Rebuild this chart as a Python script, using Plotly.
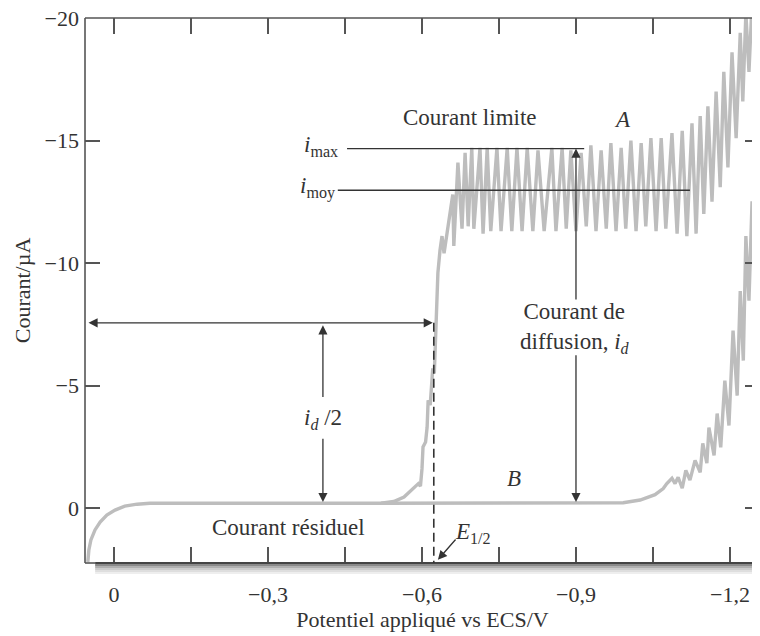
import plotly.graph_objects as go

# ---------------- data (potential in V vs ECS, current in µA) ----------------
RES_V = [0.051, 0.049, 0.045, 0.037, 0.027, 0.014, -0.002, -0.021, -0.045, -0.070]
RES_I = [2.2, 1.71, 1.30, 0.89, 0.57, 0.28, 0.08, -0.08, -0.16, -0.2]

A_V = [-0.52, -0.545, -0.565, -0.58, -0.593, -0.597, -0.600, -0.602, -0.607, -0.610,
       -0.612, -0.616, -0.619, -0.621, -0.624, -0.627, -0.631, -0.635, -0.639, -0.643,
       -0.660, -0.662, -0.670, -0.678, -0.684, -0.690,
       -0.697, -0.701, -0.713, -0.719, -0.727, -0.734, -0.746, -0.754, -0.766, -0.775,
       -0.785, -0.795, -0.805, -0.816, -0.826, -0.838, -0.853, -0.861, -0.873, -0.881,
       -0.890, -0.900, -0.910, -0.920, -0.929, -0.939, -0.949, -0.959, -0.968, -0.978,
       -0.988, -0.997, -1.007, -1.017, -1.027, -1.036, -1.046, -1.056, -1.066, -1.075,
       -1.087, -1.097, -1.107, -1.116, -1.126, -1.134, -1.142, -1.149, -1.157, -1.165,
       -1.173, -1.181, -1.188, -1.196, -1.204, -1.212, -1.220, -1.225, -1.231, -1.237,
       -1.243, -1.249, -1.255, -1.262]
A_I = [-0.2, -0.27, -0.45, -0.75, -1.0, -0.9, -1.6, -2.5, -2.7, -3.3,
       -4.4, -4.2, -5.0, -5.7, -5.5, -7.0, -9.6, -10.5, -11.1, -10.4,
       -12.8, -10.7, -14.1, -11.4, -14.5, -11.5,
       -14.7, -11.4, -14.7, -11.2, -14.7, -11.3, -14.7, -11.3, -14.7, -11.3,
       -14.7, -11.3, -14.7, -11.3, -14.6, -11.3, -14.7, -11.3, -14.7, -11.4,
       -14.6, -11.3, -14.5, -11.5, -14.8, -11.3, -14.6, -11.4, -14.9, -11.3,
       -14.7, -11.4, -15.0, -11.3, -14.9, -11.5, -15.1, -11.3, -15.1, -11.4,
       -15.3, -11.2, -15.4, -11.1, -15.7, -11.2, -16.0, -12.0, -16.4, -12.5,
       -17.0, -13.1, -17.8, -13.9, -18.6, -15.1, -19.4, -16.6, -20.2, -17.8,
       -20.6, -18.6, -21.0, -19.2]

B_V = [-0.52, -0.98, -0.992, -1.025, -1.054, -1.070, -1.077, -1.087, -1.093, -1.099, -1.107,
       -1.114, -1.122, -1.132, -1.142, -1.147, -1.155, -1.159, -1.169, -1.175, -1.182,
       -1.190, -1.198, -1.206, -1.214, -1.220, -1.226, -1.231, -1.237, -1.243, -1.249,
       -1.255, -1.262]
B_I = [-0.2, -0.2, -0.22, -0.33, -0.55, -0.8, -1.0, -1.22, -1.0, -1.26, -0.81,
       -1.54, -1.14, -1.95, -1.46, -2.64, -1.83, -3.29, -2.15, -3.86, -2.48,
       -5.2, -3.37, -7.24, -4.59, -8.86, -6.02, -11.1, -8.46, -12.52, -10.08,
       -14.27, -11.91]

I_MAX = -14.67
I_MOY = -12.97
E_HALF = -0.623
HALF_I = -7.56
I_RES = -0.25

X_TICK_VALUES = [0, -0.15, -0.3, -0.45, -0.6, -0.75, -0.9, -1.05, -1.2]
X_TICK_LABELS = ["0", "", "\u22120,3", "", "\u22120,6", "", "\u22120,9", "", "\u22121,2"]
Y_TICK_VALUES = [-20, -15, -10, -5, 0]
Y_TICK_LABELS = ["\u221220", "\u221215", "\u221210", "\u22125", "0"]

X_RANGE = [0.0565, -1.2585]
Y_RANGE = [2.24, -20]

FONT = "Liberation Serif"
INK = "#333333"
CURVE = "#bdbdbd"
FS = 23

fig = go.Figure()
fig.add_trace(go.Scatter(x=RES_V + A_V, y=RES_I + A_I, mode="lines",
                         line=dict(color=CURVE, width=3.4), hoverinfo="skip"))
fig.add_trace(go.Scatter(x=B_V, y=B_I, mode="lines",
                         line=dict(color=CURVE, width=3.4), hoverinfo="skip"))

shapes = []
# frame lines (left, top, bottom) drawn as shapes, right side has only ticks
shapes.append(dict(type="line", xref="paper", yref="paper", x0=0, x1=0, y0=0, y1=1,
                   line=dict(color="#555", width=1.6)))
shapes.append(dict(type="line", xref="paper", yref="paper", x0=0, x1=1, y0=1, y1=1,
                   line=dict(color="#555", width=1.6)))
shapes.append(dict(type="line", xref="paper", yref="paper", x0=0, x1=0.015, y0=0, y1=0,
                   line=dict(color="#555", width=1.6)))
# shadowed base line
for (p0, p1, col) in [(1, -1, "#444"), (-1, -3, "#8a8a8a"), (-3, -5, "#b0b0b0"),
                      (-5, -7, "#cccccc"), (-7, -9, "#dedede"), (-9, -11, "#eeeeee")]:
    shapes.append(dict(type="rect", xref="paper", yref="paper", ysizemode="pixel",
                       yanchor=0, x0=0.015, x1=1, y0=p0, y1=p1,
                       line=dict(width=0), fillcolor=col, layer="above"))
# i_max and i_moy lines
shapes.append(dict(type="line", x0=-0.454, x1=-0.916, y0=I_MAX, y1=I_MAX,
                   line=dict(color=INK, width=1.4)))
shapes.append(dict(type="line", x0=-0.436, x1=-1.122, y0=I_MOY, y1=I_MOY,
                   line=dict(color=INK, width=1.4)))
# E1/2 dashed line
shapes.append(dict(type="line", x0=E_HALF, x1=E_HALF, y0=HALF_I, y1=Y_RANGE[0],
                   line=dict(color=INK, width=1.6, dash="9px,5px")))

annotations = []


def arrow(x_head, y_head, x_tail, y_tail, side="end"):
    annotations.append(dict(x=x_head, y=y_head, ax=x_tail, ay=y_tail, axref="x", ayref="y",
                            xref="x", yref="y", text="", showarrow=True, arrowhead=2,
                            arrowsize=1.4, arrowwidth=1.3, arrowcolor=INK, arrowside=side,
                            standoff=0, startstandoff=0))


def label(x, y, text, xanchor="center", size=FS):
    annotations.append(dict(x=x, y=y, xref="x", yref="y", text=text, showarrow=False,
                            xanchor=xanchor, yanchor="middle",
                            font=dict(family=FONT, size=size, color=INK)))


# horizontal i_d/2 arrow (double headed)
arrow(E_HALF + 0.002, HALF_I, 0.0526, HALF_I, side="end+start")
# vertical i_d arrow
arrow(-0.9, I_MAX, -0.9, -8.45)
arrow(-0.9, I_RES, -0.9, -6.3)
# vertical i_d/2 arrow
arrow(-0.407, HALF_I + 0.1, -0.407, -4.47)
arrow(-0.407, I_RES, -0.407, -2.89)
# E1/2 pointer
arrow(-0.631, 2.11, -0.668, 1.22)

label(-0.440, I_MAX - 0.1, "<i>i</i><sub>max</sub>", xanchor="right")
label(-0.434, I_MOY - 0.1, "<i>i</i><sub>moy</sub>", xanchor="right")
label(-0.694, -15.93, "Courant limite")
label(-0.990, -15.85, "<i>A</i>")
label(-0.898, -7.36, "Courant de<br>diffusion, <i>i</i><sub><i>d</i></sub>")
label(-0.407, -3.65, "<i>i</i><sub><i>d</i></sub> /2")
label(-0.339, 0.81, "Courant résiduel")
label(-0.779, -1.22, "<i>B</i>")
label(-0.660, 1.0, "<i>E</i><sub>1/2</sub>", xanchor="left")

fig.update_layout(
    width=752, height=628,
    margin=dict(l=77, r=0, t=10, b=73, autoexpand=False),
    plot_bgcolor="white", paper_bgcolor="white",
    showlegend=False,
    shapes=shapes, annotations=annotations,
    font=dict(family=FONT, size=FS, color=INK),
)
fig.update_xaxes(
    range=X_RANGE, tickvals=X_TICK_VALUES, ticktext=X_TICK_LABELS,
    showgrid=False, zeroline=False, showline=False, mirror="ticks",
    ticks="inside", ticklen=16, tickwidth=1.5, tickcolor="#555",
    ticklabelstandoff=16, automargin=False, ticklabeloverflow="allow",
    tickfont=dict(family=FONT, size=FS - 1, color=INK),
    title=dict(text="Potentiel appliqué vs ECS/V", standoff=4,
               font=dict(family=FONT, size=FS - 1, color=INK)),
)
fig.update_yaxes(
    range=Y_RANGE, tickvals=Y_TICK_VALUES, ticktext=Y_TICK_LABELS,
    showgrid=False, zeroline=False, showline=False, mirror="ticks",
    ticks="inside", ticklen=15, tickwidth=1.5, tickcolor="#555",
    ticklabelstandoff=5, automargin=False, ticklabeloverflow="allow",
    tickfont=dict(family=FONT, size=FS - 1, color=INK),
    title=dict(text="Courant/µA", standoff=7,
               font=dict(family=FONT, size=FS - 1, color=INK)),
)

fig.write_html("out.html", config={"displayModeBar": False})
